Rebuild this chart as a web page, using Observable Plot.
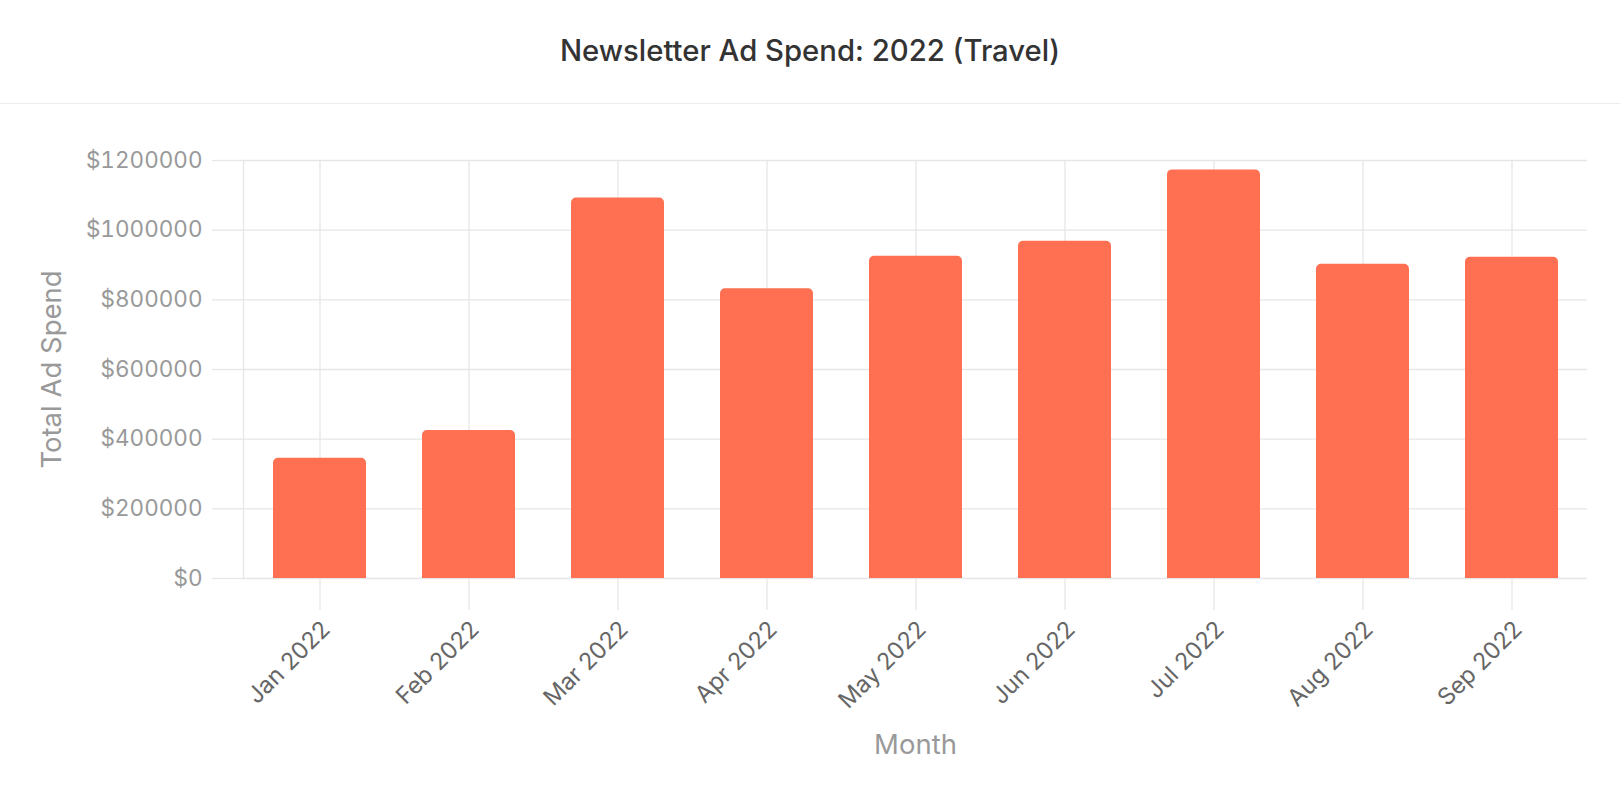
<!DOCTYPE html>
<html>
<head>
<meta charset="utf-8">
<script src="https://cdn.jsdelivr.net/npm/d3@7"></script>
<script src="https://cdn.jsdelivr.net/npm/@observablehq/plot@0.6"></script>
<style>
  html, body { margin: 0; padding: 0; background: #fff; overflow: hidden; }
  body { width: 1620px; height: 794px; font-family: Inter, "Noto Sans", sans-serif; }
  #header { height: 103px; border-bottom: 1px solid #ececec; box-sizing: content-box;
            display: flex; align-items: center; justify-content: center; }
  #title { font-size: 29.3px; font-weight: 500; color: #333; position: relative; top: -1px; }
  #chart svg { display: block; }
</style>
</head>
<body>
<div id="header"><div id="title">Newsletter Ad Spend: 2022 (Travel)</div></div>
<div id="chart"></div>
<script>
const months = ["Jan 2022", "Feb 2022", "Mar 2022", "Apr 2022", "May 2022", "Jun 2022", "Jul 2022", "Aug 2022", "Sep 2022"];
const spend = [345000, 425000, 1092000, 832000, 925000, 968000, 1173000, 902000, 922000];
const yTicks = [0, 200000, 400000, 600000, 800000, 1000000, 1200000];
const xLabel = "Month";
const yLabel = "Total Ad Spend";

const data = months.map((m, i) => ({month: m, spend: spend[i]}));
const gridColor = "#e6e6e6";

const chart = Plot.plot({
  width: 1620,
  height: 690,
  marginTop: 56,
  marginBottom: 216,
  marginLeft: 243,
  marginRight: 33,
  style: {fontFamily: "Inter, 'Noto Sans', sans-serif", fontSize: "24px", background: "#fff"},
  x: {domain: months, type: "band", paddingInner: 0.377, paddingOuter: 0.1885, align: 0.5, label: null},
  y: {domain: [0, 1200000], label: null},
  marks: [
    Plot.ruleY(yTicks, {stroke: gridColor, strokeWidth: 1.3}),
    Plot.ruleX(months, {stroke: gridColor, strokeWidth: 1.3}),
    Plot.frame({anchor: "left", stroke: gridColor, strokeWidth: 1.3}),
    Plot.axisY({ticks: yTicks, tickSize: 31, tickPadding: 10, stroke: gridColor, strokeWidth: 1.3,
                fill: "#999", fontSize: 22.5, tickFormat: d => "$" + d, label: null}),
    Plot.axisX({tickSize: 32, tickFormat: () => "", stroke: gridColor, strokeWidth: 1.3, label: null}),
    Plot.axisX({tickSize: 0, tickPadding: 47, tickRotate: -45,
                fill: "#666", fontSize: 23.5, dx: 6, label: null}),
    Plot.barY(data, {x: "month", y: "spend", fill: "#ff7052", ry1: 5}),
    Plot.text([yLabel], {frameAnchor: "left", textAnchor: "middle", lineAnchor: "middle",
                         dx: -191.5, rotate: -90, fill: "#999", fontSize: 27.5}),
    Plot.text([xLabel], {frameAnchor: "bottom", textAnchor: "middle", lineAnchor: "middle",
                         dy: 167, fill: "#999", fontSize: 27.5})
  ]
});
document.getElementById("chart").appendChild(chart);
</script>
</body>
</html>
